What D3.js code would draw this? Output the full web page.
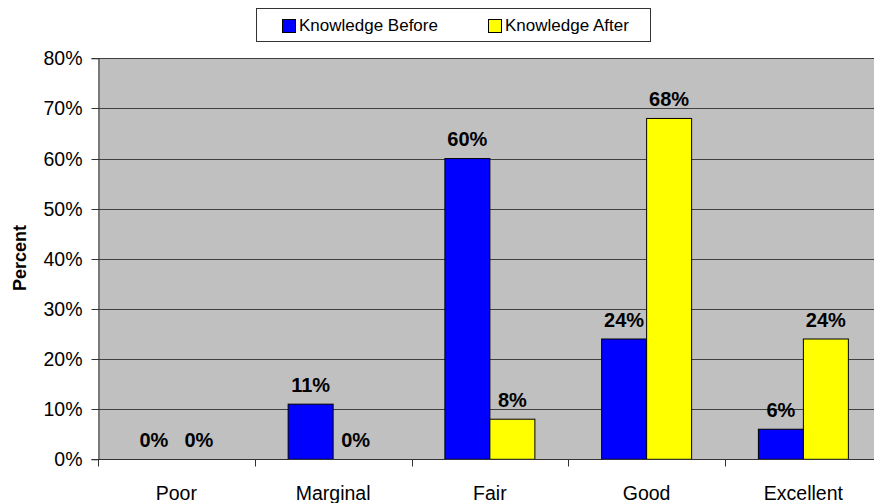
<!DOCTYPE html>
<html>
<head>
<meta charset="utf-8">
<script src="https://cdn.jsdelivr.net/npm/d3@7"></script>
<style>
  body { margin: 0; background: #fff; }
  svg { display: block; font-family: "Liberation Sans", Arial, sans-serif; }
</style>
</head>
<body>
<svg width="874" height="503"></svg>
<script>
let categories = ["Poor", "Marginal", "Fair", "Good", "Excellent"];
let series = ["Knowledge Before", "Knowledge After"];
let before = [0, 0.11, 0.60, 0.24, 0.06];
let after = [0, 0, 0.08, 0.68, 0.24];
let yTicks = [0, 0.1, 0.2, 0.3, 0.4, 0.5, 0.6, 0.7, 0.8];
let colors = ["#0000FF", "#FFFF00"];

let svg = d3.select("svg");

let plotLeft = 98, plotTop = 58.3, plotBottom = 459.3;
let step = 156.75;
let plotRight = plotLeft + step * categories.length;

let x0 = d3.scaleBand().domain(categories).range([plotLeft, plotRight]).padding(0);
let x1 = d3.scaleBand().domain(series).range([0, x0.bandwidth()]).paddingInner(0).paddingOuter(0.742);
let y = d3.scaleLinear().domain([0, 0.8]).range([plotBottom, plotTop]);

// plot background
svg.append("rect")
  .attr("x", plotLeft)
  .attr("y", plotTop)
  .attr("width", plotRight - plotLeft)
  .attr("height", plotBottom - plotTop)
  .attr("fill", "#C0C0C0");

// gridlines
svg.append("g")
  .selectAll("line")
  .data(yTicks.slice(1))
  .enter()
  .append("line")
  .attr("x1", plotLeft)
  .attr("x2", plotRight)
  .attr("y1", d => Math.round(y(d)) + 0.5)
  .attr("y2", d => Math.round(y(d)) + 0.5)
  .attr("stroke", "#404040")
  .attr("stroke-width", 1);

// y axis
let yAxis = svg.append("g")
  .attr("transform", "translate(" + (plotLeft + 0.5) + ",0)")
  .call(d3.axisLeft(y).tickValues(yTicks).tickFormat(d3.format(".0%")).tickSizeOuter(0).tickSize(7).tickPadding(9));
yAxis.selectAll("text").attr("font-size", "19.5px").attr("fill", "#000").attr("font-family", "Liberation Sans, Arial, sans-serif");
yAxis.selectAll("line").attr("stroke", "#333");
yAxis.select(".domain").attr("stroke", "#333");
yAxis.selectAll(".tick").attr("transform", d => "translate(0," + (Math.round(y(d)) + 0.5) + ")");

// bars
let rows = categories.map((c, i) => ({ cat: c, vals: [before[i], after[i]] }));
let groups = svg.append("g")
  .selectAll("g")
  .data(rows)
  .enter()
  .append("g")
  .attr("transform", d => "translate(" + x0(d.cat) + ",0)");

groups.selectAll("rect")
  .data(d => d.vals.map((v, j) => ({ s: series[j], v: v, j: j })).filter(d => d.v > 0))
  .enter()
  .append("rect")
  .attr("x", d => x1(d.s))
  .attr("y", d => y(d.v))
  .attr("width", x1.bandwidth())
  .attr("height", d => y(0) - y(d.v))
  .attr("fill", d => colors[d.j])
  .attr("stroke", "#000")
  .attr("stroke-width", 1);

groups.selectAll("text.val")
  .data(d => d.vals.map((v, j) => ({ s: series[j], v: v, j: j })))
  .enter()
  .append("text")
  .attr("class", "val")
  .attr("x", d => x1(d.s) + x1.bandwidth() / 2)
  .attr("y", d => y(d.v) - 12.5)
  .attr("text-anchor", "middle")
  .attr("font-size", "20px")
  .attr("font-weight", "bold")
  .text(d => Math.round(d.v * 100) + "%");

// x axis
let xAxis = svg.append("g")
  .attr("transform", "translate(0," + (Math.round(plotBottom) + 0.5) + ")");
xAxis.append("line")
  .attr("x1", plotLeft)
  .attr("x2", plotRight)
  .attr("stroke", "#333");
xAxis.selectAll("line.tick")
  .data(categories)
  .enter()
  .append("line")
  .attr("class", "tick")
  .attr("x1", d => Math.round(x0(d)) + 0.5)
  .attr("x2", d => Math.round(x0(d)) + 0.5)
  .attr("y1", 0)
  .attr("y2", 7)
  .attr("stroke", "#333");
xAxis.selectAll("text")
  .data(categories)
  .enter()
  .append("text")
  .attr("x", d => x0(d) + x0.bandwidth() / 2)
  .attr("y", 40)
  .attr("text-anchor", "middle")
  .attr("font-size", "19.5px")
  .text(d => d);

// y title
svg.append("text")
  .attr("transform", "translate(26,258) rotate(-90)")
  .attr("text-anchor", "middle")
  .attr("font-size", "18px")
  .attr("font-weight", "bold")
  .text("Percent");

// legend
let legend = svg.append("g");
legend.append("rect")
  .attr("x", 256.5)
  .attr("y", 8.5)
  .attr("width", 394)
  .attr("height", 33)
  .attr("fill", "#fff")
  .attr("stroke", "#333");
let legX = [282, 488];
let items = legend.selectAll("g")
  .data(series)
  .enter()
  .append("g")
  .attr("transform", (d, i) => "translate(" + legX[i] + ",0)");
items.append("rect")
  .attr("x", 0.5)
  .attr("y", 19.5)
  .attr("width", 13)
  .attr("height", 13)
  .attr("fill", (d, i) => colors[i])
  .attr("stroke", "#000");
items.append("text")
  .attr("x", 17)
  .attr("y", 31)
  .attr("font-size", "17px")
  .text(d => d);
</script>
</body>
</html>
